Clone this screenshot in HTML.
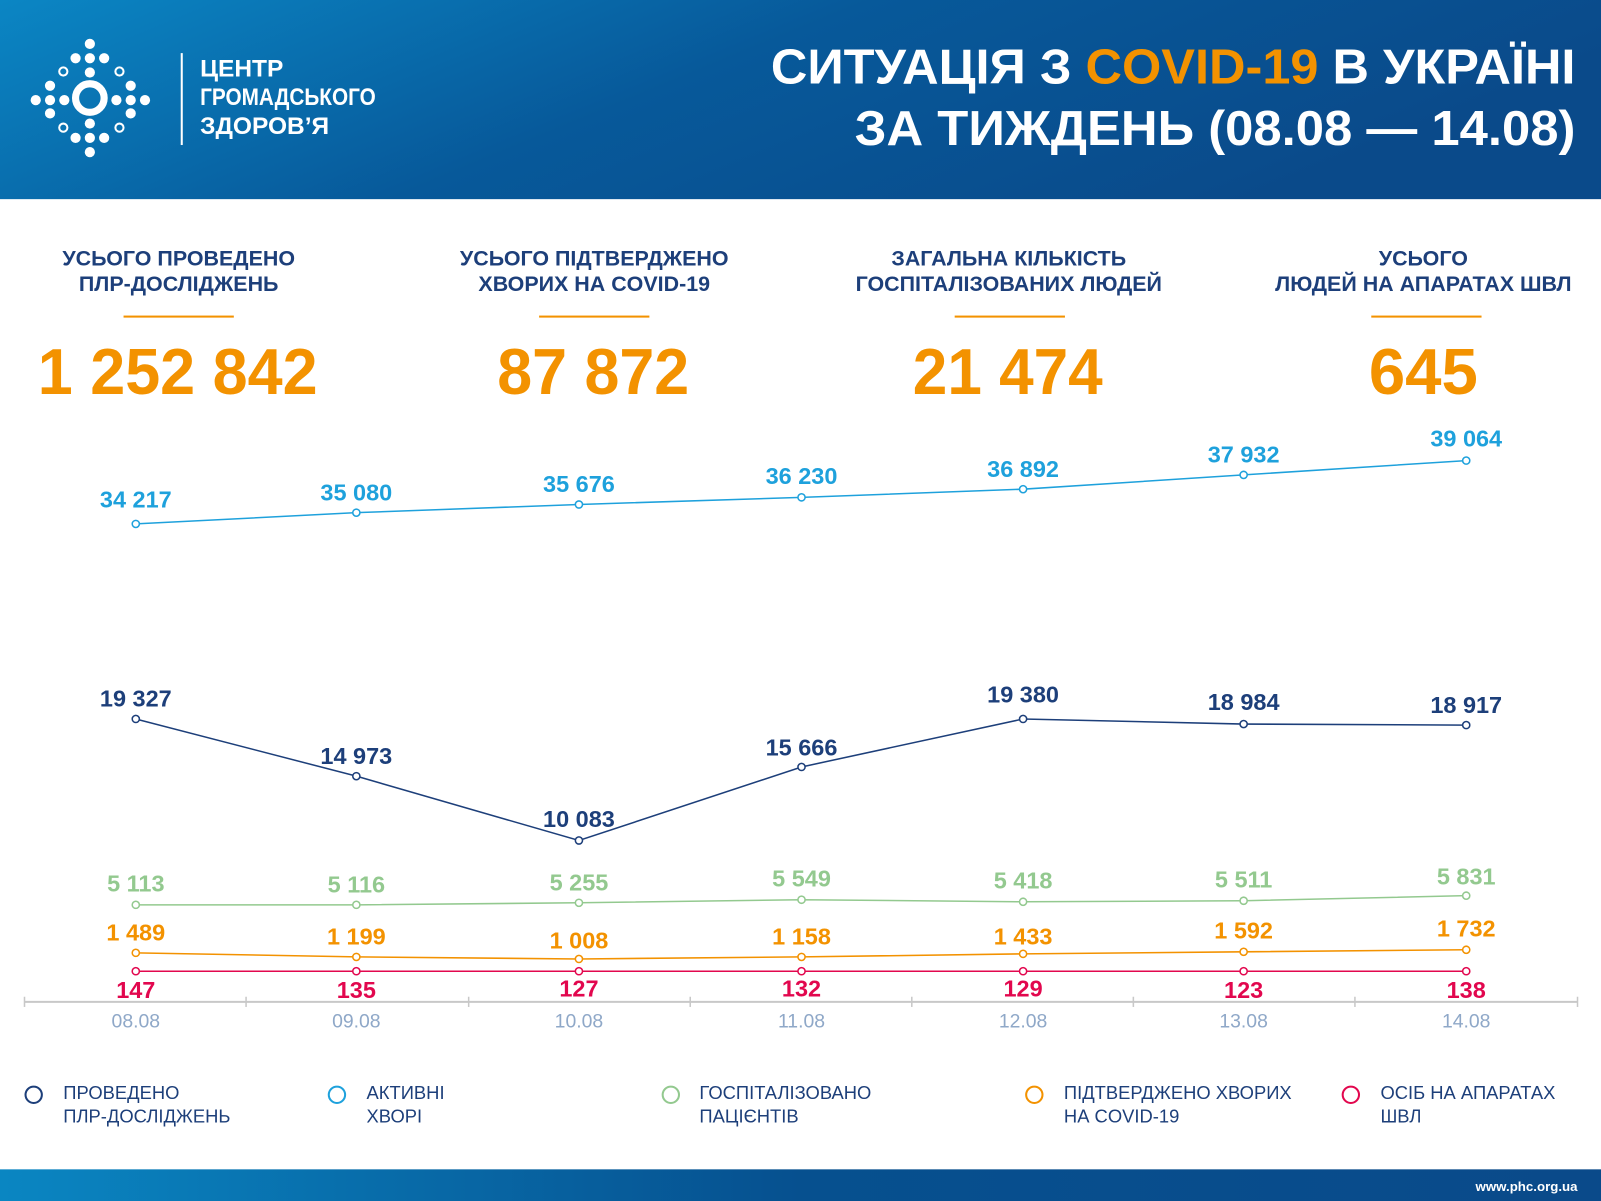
<!DOCTYPE html>
<html><head><meta charset="utf-8"><style>
html,body{margin:0;padding:0;background:#fff}
svg{display:block}
text{font-family:"Liberation Sans Narrow","Liberation Sans","DejaVu Sans",sans-serif}
</style></head><body>
<svg width="1601" height="1201" viewBox="0 0 1568 1176" preserveAspectRatio="none" xmlns="http://www.w3.org/2000/svg">
<defs>
<linearGradient id="hg" x1="0" y1="0" x2="1" y2="0.3">
<stop offset="0" stop-color="#0b86c4"/><stop offset="0.5" stop-color="#07599a"/><stop offset="1" stop-color="#0a4a8a"/></linearGradient>
<linearGradient id="fg" x1="0" y1="0" x2="1" y2="0">
<stop offset="0" stop-color="#0a86c2"/><stop offset="0.5" stop-color="#06508f"/><stop offset="1" stop-color="#0a4a8a"/></linearGradient>
</defs>
<rect x="0" y="0" width="1568" height="195" fill="url(#hg)"/>
<rect x="0" y="1145" width="1568" height="31" fill="url(#fg)"/>
<text x="1545" y="1166" fill="#fff" font-size="13" font-weight="bold" text-anchor="end">www.phc.org.ua</text>
<!-- logo -->
<g fill="#fff">
<circle cx="88" cy="96" r="14" fill="none" stroke="#fff" stroke-width="7"/>
<circle cx="88" cy="43" r="5"/><circle cx="74" cy="57" r="5"/><circle cx="88" cy="57" r="5"/><circle cx="102" cy="57" r="5"/><circle cx="88" cy="71" r="5"/>
<circle cx="88" cy="149" r="5"/><circle cx="74" cy="135" r="5"/><circle cx="88" cy="135" r="5"/><circle cx="102" cy="135" r="5"/><circle cx="88" cy="121" r="5"/>
<circle cx="35" cy="98" r="5"/><circle cx="49" cy="84" r="5"/><circle cx="49" cy="98" r="5"/><circle cx="49" cy="111" r="5"/><circle cx="63" cy="98" r="5"/>
<circle cx="142" cy="98" r="5"/><circle cx="128" cy="84" r="5"/><circle cx="128" cy="98" r="5"/><circle cx="128" cy="111" r="5"/><circle cx="114" cy="98" r="5"/>
</g>
<g fill="none" stroke="#fff" stroke-width="2"><circle cx="62" cy="70" r="4"/><circle cx="117" cy="70" r="4"/><circle cx="62" cy="125" r="4"/><circle cx="117" cy="125" r="4"/></g>
<rect x="177" y="52" width="2" height="90" fill="#fff"/>
<g fill="#fff" font-size="24" font-weight="bold"><text x="196" y="75">ЦЕНТР</text><text x="196" y="103" textLength="172" lengthAdjust="spacingAndGlyphs">ГРОМАДСЬКОГО</text><text x="196" y="131">ЗДОРОВ’Я</text></g>
<text x="1543" y="82" fill="#fff" font-size="48" font-weight="bold" text-anchor="end" textLength="788" lengthAdjust="spacingAndGlyphs">СИТУАЦІЯ З <tspan fill="#f39200">COVID-19</tspan> В УКРАЇНІ</text>
<text x="1543" y="142" fill="#fff" font-size="48" font-weight="bold" text-anchor="end" textLength="706" lengthAdjust="spacingAndGlyphs">ЗА ТИЖДЕНЬ (08.08 — 14.08)</text>
<!-- stats -->
<g fill="#1d3f7a" font-size="21" font-weight="bold" text-anchor="middle">
<text x="175" y="260">УСЬОГО ПРОВЕДЕНО</text><text x="175" y="285">ПЛР-ДОСЛІДЖЕНЬ</text>
<text x="582" y="260">УСЬОГО ПІДТВЕРДЖЕНО</text><text x="582" y="285">ХВОРИХ НА COVID-19</text>
<text x="988" y="260">ЗАГАЛЬНА КІЛЬКІСТЬ</text><text x="988" y="285">ГОСПІТАЛІЗОВАНИХ ЛЮДЕЙ</text>
<text x="1394" y="260">УСЬОГО</text><text x="1394" y="285">ЛЮДЕЙ НА АПАРАТАХ ШВЛ</text>
</g>
<g fill="#f39200"><rect x="121" y="309" width="108" height="2"/><rect x="528" y="309" width="108" height="2"/><rect x="935" y="309" width="108" height="2"/><rect x="1343" y="309" width="108" height="2"/></g>
<g fill="#f39200" font-size="64" font-weight="bold" text-anchor="middle">
<text x="174" y="386" textLength="274" lengthAdjust="spacingAndGlyphs">1 252 842</text>
<text x="581" y="386" textLength="188" lengthAdjust="spacingAndGlyphs">87 872</text>
<text x="987" y="386" textLength="186" lengthAdjust="spacingAndGlyphs">21 474</text>
<text x="1394" y="386">645</text>
</g>
<!-- axis -->
<line x1="24" y1="981" x2="1545" y2="981" stroke="#c8c8c8" stroke-width="2"/>
<g stroke="#c8c8c8" stroke-width="1.5"><line x1="24" y1="976" x2="24" y2="986"/><line x1="241" y1="976" x2="241" y2="986"/><line x1="459" y1="976" x2="459" y2="986"/><line x1="676" y1="976" x2="676" y2="986"/><line x1="893" y1="976" x2="893" y2="986"/><line x1="1110" y1="976" x2="1110" y2="986"/><line x1="1327" y1="976" x2="1327" y2="986"/><line x1="1545" y1="976" x2="1545" y2="986"/></g>
<g fill="#8fa8c8" font-size="19" text-anchor="middle"><text x="133" y="1006">08.08</text><text x="349" y="1006">09.08</text><text x="567" y="1006">10.08</text><text x="785" y="1006">11.08</text><text x="1002" y="1006">12.08</text><text x="1218" y="1006">13.08</text><text x="1436" y="1006">14.08</text></g>
<!-- series -->
<g fill="#fff" stroke-width="1.5">
<polyline points="133,513 349,502 567,494 785,487 1002,479 1218,465 1436,451" fill="none" stroke="#1ea1dc"/>
<g stroke="#1ea1dc"><circle cx="133" cy="513" r="3.5"/><circle cx="349" cy="502" r="3.5"/><circle cx="567" cy="494" r="3.5"/><circle cx="785" cy="487" r="3.5"/><circle cx="1002" cy="479" r="3.5"/><circle cx="1218" cy="465" r="3.5"/><circle cx="1436" cy="451" r="3.5"/></g>
<polyline points="133,704 349,760 567,823 785,751 1002,704 1218,709 1436,710" fill="none" stroke="#1d3f7a"/>
<g stroke="#1d3f7a"><circle cx="133" cy="704" r="3.5"/><circle cx="349" cy="760" r="3.5"/><circle cx="567" cy="823" r="3.5"/><circle cx="785" cy="751" r="3.5"/><circle cx="1002" cy="704" r="3.5"/><circle cx="1218" cy="709" r="3.5"/><circle cx="1436" cy="710" r="3.5"/></g>
<polyline points="133,886 349,886 567,884 785,881 1002,883 1218,882 1436,877" fill="none" stroke="#93c98f"/>
<g stroke="#93c98f"><circle cx="133" cy="886" r="3.5"/><circle cx="349" cy="886" r="3.5"/><circle cx="567" cy="884" r="3.5"/><circle cx="785" cy="881" r="3.5"/><circle cx="1002" cy="883" r="3.5"/><circle cx="1218" cy="882" r="3.5"/><circle cx="1436" cy="877" r="3.5"/></g>
<polyline points="133,933 349,937 567,939 785,937 1002,934 1218,932 1436,930" fill="none" stroke="#f39200"/>
<g stroke="#f39200"><circle cx="133" cy="933" r="3.5"/><circle cx="349" cy="937" r="3.5"/><circle cx="567" cy="939" r="3.5"/><circle cx="785" cy="937" r="3.5"/><circle cx="1002" cy="934" r="3.5"/><circle cx="1218" cy="932" r="3.5"/><circle cx="1436" cy="930" r="3.5"/></g>
<polyline points="133,951 349,951 567,951 785,951 1002,951 1218,951 1436,951" fill="none" stroke="#e2074e"/>
<g stroke="#e2074e"><circle cx="133" cy="951" r="3.5"/><circle cx="349" cy="951" r="3.5"/><circle cx="567" cy="951" r="3.5"/><circle cx="785" cy="951" r="3.5"/><circle cx="1002" cy="951" r="3.5"/><circle cx="1218" cy="951" r="3.5"/><circle cx="1436" cy="951" r="3.5"/></g>
</g>
<g font-size="23" font-weight="bold" text-anchor="middle">
<g fill="#1ea1dc"><text x="133" y="497">34 217</text><text x="349" y="490">35 080</text><text x="567" y="482">35 676</text><text x="785" y="474">36 230</text><text x="1002" y="467">36 892</text><text x="1218" y="453">37 932</text><text x="1436" y="437">39 064</text></g>
<g fill="#1d3f7a"><text x="133" y="692">19 327</text><text x="349" y="748">14 973</text><text x="567" y="810">10 083</text><text x="785" y="740">15 666</text><text x="1002" y="688">19 380</text><text x="1218" y="695">18 984</text><text x="1436" y="698">18 917</text></g>
<g fill="#93c98f"><text x="133" y="873">5 113</text><text x="349" y="874">5 116</text><text x="567" y="872">5 255</text><text x="785" y="868">5 549</text><text x="1002" y="870">5 418</text><text x="1218" y="869">5 511</text><text x="1436" y="866">5 831</text></g>
<g fill="#f39200"><text x="133" y="921">1 489</text><text x="349" y="925">1 199</text><text x="567" y="929">1 008</text><text x="785" y="925">1 158</text><text x="1002" y="925">1 433</text><text x="1218" y="919">1 592</text><text x="1436" y="917">1 732</text></g>
<g fill="#e2074e"><text x="133" y="977">147</text><text x="349" y="977">135</text><text x="567" y="976">127</text><text x="785" y="976">132</text><text x="1002" y="976">129</text><text x="1218" y="977">123</text><text x="1436" y="977">138</text></g>
</g>
<!-- legend -->
<g fill="none" stroke-width="2"><circle cx="33" cy="1072" r="8" stroke="#1d3f7a"/><circle cx="330" cy="1072" r="8" stroke="#1ea1dc"/><circle cx="657" cy="1072" r="8" stroke="#93c98f"/><circle cx="1013" cy="1072" r="8" stroke="#f39200"/><circle cx="1323" cy="1072" r="8" stroke="#e2074e"/></g>
<g fill="#1d3f7a" font-size="18">
<text x="62" y="1076">ПРОВЕДЕНО</text><text x="62" y="1099">ПЛР-ДОСЛІДЖЕНЬ</text>
<text x="359" y="1076">АКТИВНІ</text><text x="359" y="1099">ХВОРІ</text>
<text x="685" y="1076">ГОСПІТАЛІЗОВАНО</text><text x="685" y="1099">ПАЦІЄНТІВ</text>
<text x="1042" y="1076">ПІДТВЕРДЖЕНО ХВОРИХ</text><text x="1042" y="1099">НА COVID-19</text>
<text x="1352" y="1076">ОСІБ НА АПАРАТАХ</text><text x="1352" y="1099">ШВЛ</text>
</g>
</svg>
</body></html>
